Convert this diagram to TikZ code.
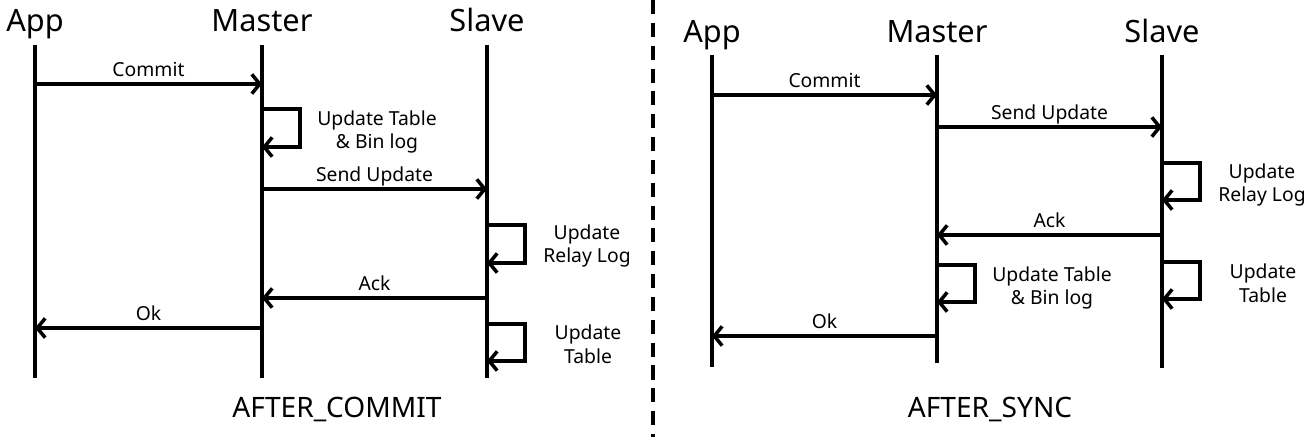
\documentclass[tikz,border=0pt]{standalone}
\usepackage{fontspec}
\setmainfont{Noto Sans}
\usetikzlibrary{arrows.meta}

\begin{document}
\begin{tikzpicture}[x=0.02cm, y=-0.02cm,
  actor/.style={font=\fontsize{17.5}{19}\selectfont, anchor=base, inner sep=0pt},
  title/.style={font=\fontsize{16}{18}\selectfont, anchor=base, inner sep=0pt},
  life/.style={line width=2.3pt},
  msg/.style={line width=2.3pt, -{Straight Barb[length=4.5pt, width=11pt, line width=2pt]}},
  lbl/.style={font=\fontsize{11}{13.5}\selectfont, align=center},
  tag/.style={font=\fontsize{11}{13}\selectfont, midway, anchor=base, yshift=4.5pt, inner sep=0pt}]
\useasboundingbox (0,0) rectangle (1313,437);

% AFTER_COMMIT
\node  (app1)[actor] at (35,31) {App};
\node  (mas1)[actor] at (262,31) {Master};
\node  (sla1)[actor] at (487,31) {Slave};
\coordinate (app1t) at (35,45);   \coordinate (app1b) at (35,378);
\coordinate (mas1t) at (262,45);  \coordinate (mas1b) at (262,378);
\coordinate (sla1t) at (487,45);  \coordinate (sla1b) at (487,378);
\draw[life] (app1t) -- (app1b);
\draw[life] (mas1t) -- (mas1b);
\draw[life] (sla1t) -- (sla1b);

\coordinate (c1a) at (35,84);   \coordinate (c1m) at (262,84);
\coordinate (l1a) at (262,109); \coordinate (l1b) at (262,147);
\coordinate (s1m) at (262,189); \coordinate (s1s) at (487,189);
\coordinate (l2a) at (487,225); \coordinate (l2b) at (487,263);
\coordinate (k1s) at (487,298); \coordinate (k1m) at (262,298);
\coordinate (o1m) at (262,328); \coordinate (o1a) at (35,328);
\coordinate (l3a) at (487,324); \coordinate (l3b) at (487,361);

\draw[msg] (c1a) -- (c1m) node[tag] {Commit};
\draw[msg] (l1a) -- ++(38,0) |- (l1b);
\node  (t1)[lbl] at (377,132) {Update Table\\\& Bin log};
\draw[msg] (s1m) -- (s1s) node[tag] {Send Update};
\draw[msg] (l2a) -- ++(38,0) |- (l2b);
\node  (t2)[lbl] at (587,246) {Update\\Relay Log};
\draw[msg] (k1s) -- (k1m) node[tag] {Ack};
\draw[msg] (o1m) -- (o1a) node[tag] {Ok};
\draw[msg] (l3a) -- ++(38,0) |- (l3b);
\node  (t3)[lbl] at (588,344) {Update\\Table};
\node  (n1)[title] at (337,417) {AFTER\_COMMIT};

% divider
\coordinate (d1) at (653,0);  \coordinate (d2) at (653,437);
\draw[line width=1.8pt, dash pattern=on 8pt off 5pt] (d1) -- (d2);

% AFTER_SYNC
\node  (app2)[actor] at (712,42) {App};
\node  (mas2)[actor] at (937,42) {Master};
\node  (sla2)[actor] at (1162,42) {Slave};
\coordinate (app2t) at (712,55);   \coordinate (app2b) at (712,367);
\coordinate (mas2t) at (937,55);   \coordinate (mas2b) at (937,363);
\coordinate (sla2t) at (1162,55);  \coordinate (sla2b) at (1162,368);
\draw[life] (app2t) -- (app2b);
\draw[life] (mas2t) -- (mas2b);
\draw[life] (sla2t) -- (sla2b);

\coordinate (c2a) at (712,95);   \coordinate (c2m) at (937,95);
\coordinate (s2m) at (937,127);  \coordinate (s2s) at (1162,127);
\coordinate (l4a) at (1162,163); \coordinate (l4b) at (1162,200);
\coordinate (k2s) at (1162,235); \coordinate (k2m) at (937,235);
\coordinate (l5a) at (937,265);  \coordinate (l5b) at (937,302);
\coordinate (l6a) at (1162,262); \coordinate (l6b) at (1162,299);
\coordinate (o2m) at (937,336);  \coordinate (o2a) at (712,336);

\draw[msg] (c2a) -- (c2m) node[tag] {Commit};
\draw[msg] (s2m) -- (s2s) node[tag] {Send Update};
\draw[msg] (l4a) -- ++(38,0) |- (l4b);
\node  (t4)[lbl] at (1262,185) {Update\\Relay Log};
\draw[msg] (k2s) -- (k2m) node[tag] {Ack};
\draw[msg] (l5a) -- ++(38,0) |- (l5b);
\node  (t5)[lbl] at (1052,288) {Update Table\\\& Bin log};
\draw[msg] (l6a) -- ++(38,0) |- (l6b);
\node  (t6)[lbl] at (1263,283) {Update\\Table};
\draw[msg] (o2m) -- (o2a) node[tag] {Ok};
\node  (n2)[title] at (990,417) {AFTER\_SYNC};
\end{tikzpicture}
\end{document}
